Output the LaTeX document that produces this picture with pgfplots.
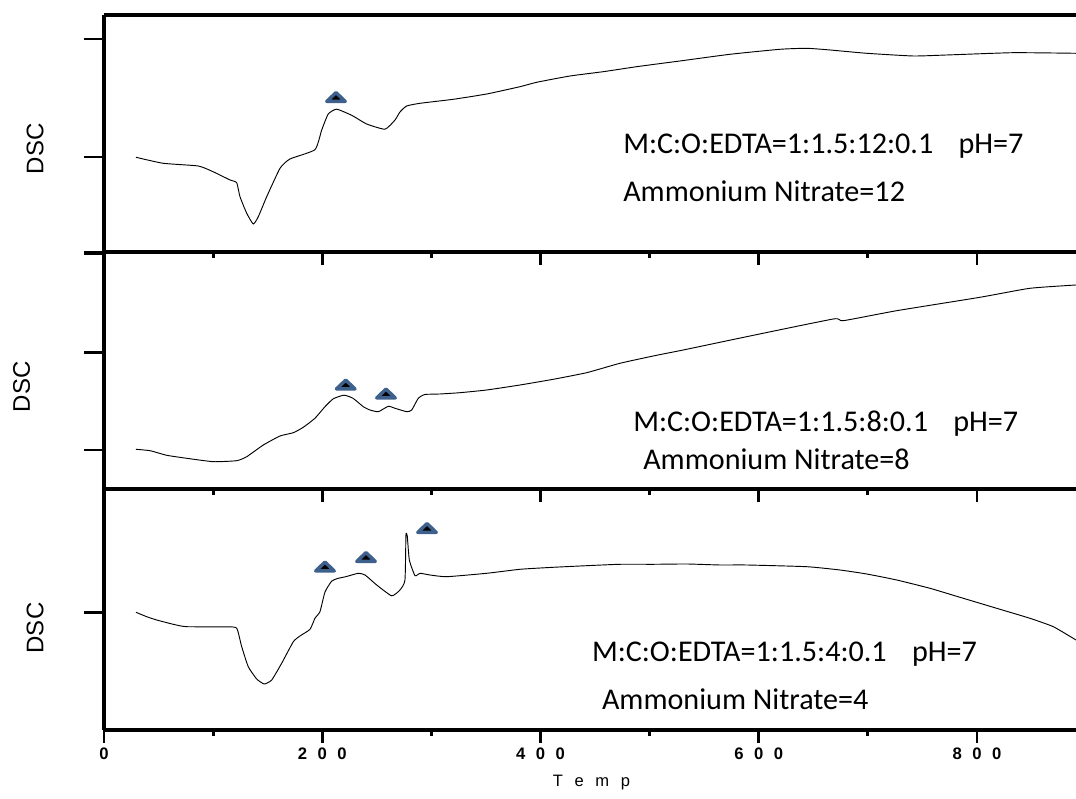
\documentclass[border=0pt]{standalone}
\usepackage{fontspec}
\setmainfont{Liberation Sans}
\newfontfamily\calfont{Carlito}
\usepackage{pgfplots}
\pgfplotsset{compat=1.18}
\definecolor{markblue}{RGB}{62,96,140}
\newcommand\tsp{\hspace{7.9pt}}
\newcommand\lsp{\hspace{8.7pt}}
\pgfplotsset{
  dscpanel/.style={
    scale only axis, width=729pt, xmin=0, xmax=890.7, ymin=0,
    separate axis lines, axis x line*=box, axis y line*=left,
    axis line style={-, line width=2.3pt},
    y axis line style={line width=2.8pt},
    xtick={0,200,400,600,800}, minor xtick={100,300,500,700},
    xtick pos=left, ytick pos=left, tick align=outside,
    major tick length=9.75pt, minor tick length=4.5pt,
    xtick style={line width=2.2pt, black},
    ytick style={line width=2pt, black, /pgfplots/major tick length=15pt},
    minor tick style={line width=1.8pt, black},
    yticklabels={}, xticklabels={},
  },
  curve/.style={black, line width=0.7pt, mark=none, smooth, tension=0.3},
  tri/.style={only marks, mark=triangle*, mark size=8pt,
    mark options={fill=black, draw=markblue, line width=2.6pt, yscale=0.55, line join=round}},
}
\begin{document}
\begin{tikzpicture}
\path[use as bounding box] (0pt,0pt) rectangle (807pt,599.25pt);

% top panel
\begin{axis}[dscpanel, at={(78pt,410.25pt)}, anchor=south west, height=177.75pt, ymax=237, ytick={0,95,213}]
\addplot[curve] coordinates {(29.3,94.7) (54.3,88.7) (86.4,86) (99.9,80.3) (115.5,72) (121.6,69.3) (124.6,55.3) (130.8,38.7) (136.8,28) (141.4,35.3) (149.1,55.3) (161.3,83.7) (170.4,93) (193.3,102.3) (199.5,122) (205.5,138) (213.2,142.8) (227.3,136.5) (240.7,128) (257.5,122.8) (266.7,132) (271.2,140) (277.4,146) (289.6,148.7) (320.1,152.7) (350.7,158) (381.2,165.3) (396.5,169.7) (427,176) (457.5,180.3) (488.1,185.3) (518.6,189.7) (527.8,191) (573.6,197.7) (619.4,202.7) (643.9,203.7) (665.3,202) (698.9,198.7) (741.6,196) (772.2,197) (833.2,199.3) (890.7,198.7)};
\addplot[tri] coordinates {(212.6,153.5)};
\end{axis}

% middle panel
\begin{axis}[dscpanel, at={(78pt,232.5pt)}, anchor=south west, height=177.75pt, ymax=237, ytick={39,136.3,235.7}]
\addplot[curve] coordinates {(29.3,39.7) (42.2,38.3) (57.5,33.7) (75.8,30.7) (100.2,27.3) (121.6,28.3) (130.8,32.3) (146,44) (161.3,53) (173.5,56.3) (182.6,61.7) (193.3,70.7) (202.5,82.3) (210.1,90.2) (219.9,93.8) (228.2,90.7) (237.6,82.3) (243.7,79) (251.4,77.3) (260.5,82.7) (266.7,80.7) (277.4,77.3) (282,79) (288,90.7) (294.1,94.5) (307.9,95) (326.2,96.3) (350.7,99) (381.2,104) (411.7,109.7) (442.3,116.3) (472.8,125.7) (503.3,133) (533.9,139.7) (588.9,152.3) (668.3,170) (677.5,168.3) (726.4,178.3) (802.7,191.7) (848.5,200.7) (890.7,204)};
\addplot[tri] coordinates {(221.5,103) (258.4,94)};
\end{axis}

% bottom panel
\begin{axis}[dscpanel, at={(78pt,51.75pt)}, anchor=south west, height=180.75pt, ymax=241, ytick={117.3},
  xticklabels={{\textbf{0}\tsp},{\textbf{2}\tsp\textbf{0}\tsp\textbf{0}\tsp},{\textbf{4}\tsp\textbf{0}\tsp\textbf{0}\tsp},{\textbf{6}\tsp\textbf{0}\tsp\textbf{0}\tsp},{\textbf{8}\tsp\textbf{0}\tsp\textbf{0}\tsp}},
  xticklabel style={font=\fontsize{12.5}{12.5}\selectfont}]
\addplot[curve] coordinates {(29.3,117.7) (39.1,113.3) (48.3,110) (63.5,105.7) (75.8,103.3) (118.5,103) (122.5,99.3) (126.2,83.3) (132.2,63.3) (139.9,51) (146.9,46) (153.7,50) (162.8,66.7) (173.5,88.3) (179.6,94) (188.8,100.7) (193.3,111.7) (197.9,118.3) (202.5,138) (208.6,148.8) (214,151.5) (221.6,153.3) (233,156.7) (239.2,155) (249.9,145) (263.6,134.2) (271.2,140) (275.8,150) (276.7,195) (277.9,194) (279.8,170) (285,154.3) (289.6,156.7) (298.7,155) (314,153.3) (350.7,156.7) (381.2,160.7) (411.7,162.7) (442.3,164.3) (472.8,165.7) (503.3,165.7) (533.9,166) (564.5,165) (588.9,165) (643.9,163.3) (674.4,160) (698.9,156) (726.4,150) (756.9,141.7) (787.4,131.7) (818,121.7) (848.5,111.7) (869.9,103.3) (890.7,90)};
\addplot[tri] coordinates {(202.5,162) (240.1,171.5) (296,200.5)};
\end{axis}

% y labels
\node[rotate=90, font=\fontsize{18}{18}\selectfont] at (26.25pt,487.5pt) {DSC};
\node[rotate=90, font=\fontsize{18}{18}\selectfont] at (16.3pt,309pt) {DSC};
\node[rotate=90, font=\fontsize{18}{18}\selectfont] at (26.25pt,128.25pt) {DSC};
% x label
\node[anchor=base, inner sep=0pt, font=\fontsize{12.4}{12.4}\selectfont] at (443.6pt,9.2pt) {T\lsp e\lsp m\lsp p};

% annotations
\begin{scope}[every node/.style={anchor=base west, inner sep=0pt, font=\calfont\fontsize{22.6}{26}\selectfont}]
\node at (467.25pt,483.75pt) {M:C:O:EDTA=1:1.5:12:0.1\hspace{19pt}pH=7};
\node at (467.25pt,447.75pt) {Ammonium Nitrate=12};
\node at (474.75pt,275.25pt) {M:C:O:EDTA=1:1.5:8:0.1\hspace{19pt}pH=7};
\node at (482.25pt,246.75pt) {Ammonium Nitrate=8};
\node at (443.8pt,102.75pt) {M:C:O:EDTA=1:1.5:4:0.1\hspace{19pt}pH=7};
\node at (451.3pt,66.75pt) {Ammonium Nitrate=4};
\end{scope}
\end{tikzpicture}
\end{document}
